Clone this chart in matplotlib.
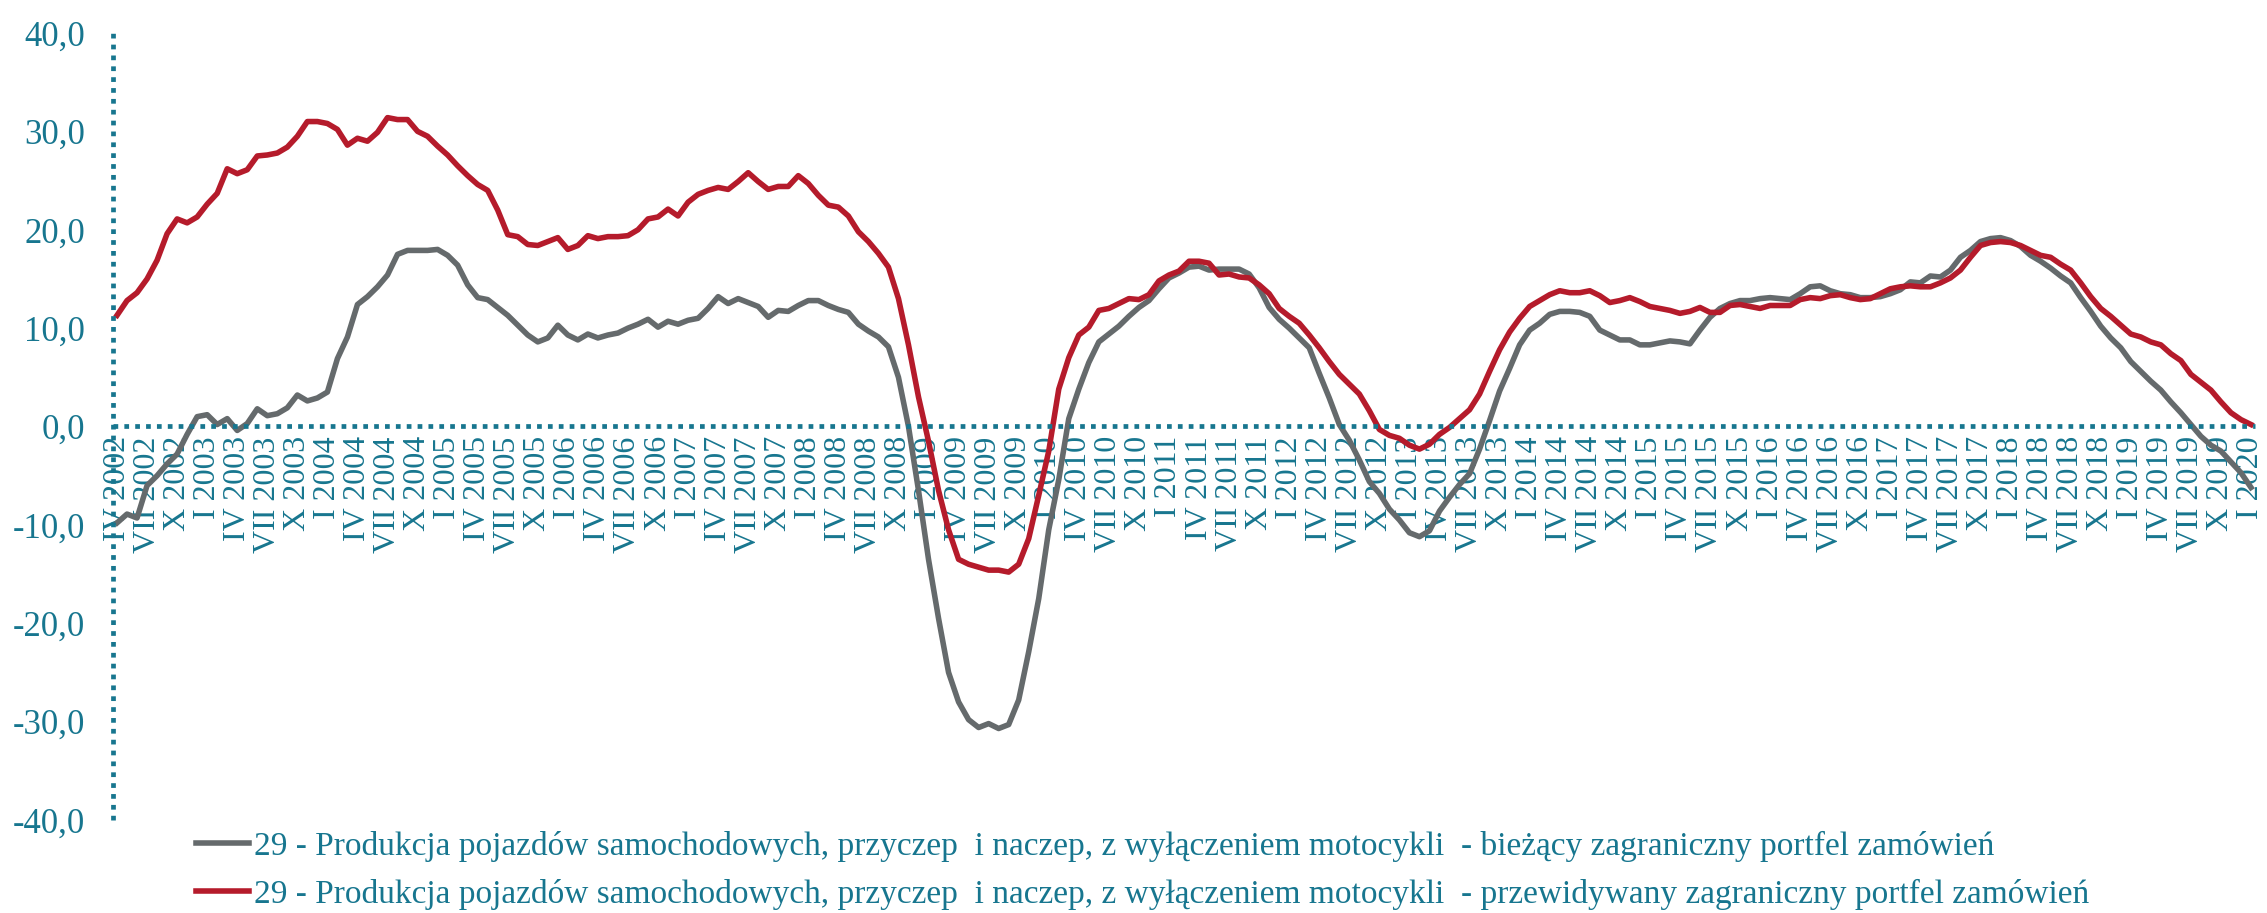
import matplotlib
matplotlib.use("Agg")
import matplotlib.pyplot as plt
import numpy as np

# monthly values, IV 2002 .. I 2020
biezacy = [
    -9.8, -8.9, -9.3, -6.0, -5.0, -3.8, -2.8, -0.8, 1.0,
    1.2, 0.2, 0.8, -0.4, 0.3, 1.8, 1.1, 1.3, 1.9, 3.2, 2.6, 2.9,
    3.5, 6.9, 9.1, 12.4, 13.2, 14.2, 15.4, 17.5, 17.9, 17.9, 17.9, 18.0,
    17.4, 16.4, 14.4, 13.1, 12.9, 12.1, 11.3, 10.3, 9.3, 8.6, 9.0, 10.3,
    9.3, 8.8, 9.4, 9.0, 9.3, 9.5, 10.0, 10.4, 10.9, 10.1, 10.7, 10.4,
    10.8, 11.0, 12.0, 13.2, 12.5, 13.0, 12.6, 12.2, 11.1, 11.8, 11.7, 12.3,
    12.8, 12.8, 12.3, 11.9, 11.6, 10.4, 9.7, 9.1, 8.1, 5.0, 0.0, -6.5,
    -13.5, -19.5, -25.0, -28.0, -29.8, -30.6, -30.2, -30.7, -30.3, -27.8, -22.9, -17.5,
    -10.5, -5.4, 0.8, 3.8, 6.5, 8.6, 9.4, 10.2, 11.2, 12.1, 12.8, 14.0,
    15.1, 15.6, 16.2, 16.3, 15.9, 16.0, 16.0, 16.0, 15.5, 14.1, 12.1, 10.9,
    10.0, 9.0, 8.0, 5.4, 2.9, 0.2, -1.4, -3.4, -5.6, -6.8, -8.4, -9.5,
    -10.8, -11.2, -10.6, -8.6, -7.2, -5.9, -4.8, -2.3, 0.6, 3.6, 5.9, 8.3,
    9.8, 10.5, 11.4, 11.7, 11.7, 11.6, 11.2, 9.8, 9.3, 8.8, 8.8, 8.3,
    8.3, 8.5, 8.7, 8.6, 8.4, 9.8, 11.1, 12.0, 12.5, 12.8, 12.8, 13.0,
    13.1, 13.0, 12.9, 13.5, 14.2, 14.3, 13.8, 13.5, 13.4, 13.1, 13.1, 13.2,
    13.5, 13.9, 14.7, 14.6, 15.3, 15.2, 15.9, 17.2, 17.9, 18.8, 19.1, 19.2,
    18.9, 18.3, 17.4, 16.8, 16.1, 15.3, 14.6, 13.1, 11.7, 10.2, 9.0, 8.0,
    6.6, 5.6, 4.6, 3.7, 2.5, 1.4, 0.2, -1.0, -1.9, -2.5, -3.6, -4.7,
    -6.2,
]

przewidywany = [
    11.3, 12.8, 13.6, 15.0, 16.9, 19.6, 21.1, 20.7, 21.3,
    22.6, 23.7, 26.2, 25.7, 26.1, 27.5, 27.6, 27.8, 28.4, 29.5, 31.0, 31.0,
    30.8, 30.2, 28.6, 29.3, 29.0, 29.9, 31.4, 31.2, 31.2, 30.0, 29.5, 28.5,
    27.6, 26.5, 25.5, 24.6, 24.0, 22.0, 19.5, 19.3, 18.5, 18.4, 18.8, 19.2,
    18.0, 18.4, 19.4, 19.1, 19.3, 19.3, 19.4, 20.0, 21.1, 21.3, 22.1, 21.4,
    22.8, 23.6, 24.0, 24.3, 24.1, 24.9, 25.8, 24.9, 24.1, 24.4, 24.4, 25.5,
    24.7, 23.5, 22.5, 22.3, 21.4, 19.8, 18.8, 17.6, 16.2, 13.0, 8.3, 3.0,
    -1.5, -6.5, -10.5, -13.5, -14.0, -14.3, -14.6, -14.6, -14.8, -14.0, -11.4, -7.0,
    -2.5, 3.8, 7.0, 9.3, 10.1, 11.8, 12.0, 12.5, 13.0, 12.9, 13.4, 14.8,
    15.4, 15.8, 16.8, 16.8, 16.6, 15.4, 15.5, 15.2, 15.1, 14.4, 13.5, 12.0,
    11.2, 10.5, 9.3, 8.0, 6.6, 5.3, 4.3, 3.3, 1.6, -0.3, -0.9, -1.2,
    -1.9, -2.3, -1.8, -0.8, -0.1, 0.8, 1.7, 3.3, 5.6, 7.8, 9.6, 11.0,
    12.2, 12.8, 13.4, 13.8, 13.6, 13.6, 13.8, 13.3, 12.6, 12.8, 13.1, 12.7,
    12.2, 12.0, 11.8, 11.5, 11.7, 12.1, 11.6, 11.6, 12.3, 12.4, 12.2, 12.0,
    12.3, 12.3, 12.3, 12.9, 13.1, 13.0, 13.3, 13.4, 13.1, 12.9, 13.0, 13.5,
    14.0, 14.2, 14.3, 14.2, 14.2, 14.6, 15.1, 15.9, 17.2, 18.4, 18.7, 18.8,
    18.7, 18.4, 17.9, 17.4, 17.2, 16.5, 15.9, 14.6, 13.2, 12.0, 11.2, 10.3,
    9.4, 9.1, 8.6, 8.3, 7.4, 6.7, 5.3, 4.5, 3.7, 2.5, 1.4, 0.7,
    0.2,
]

rzymskie = ["I", "II", "III", "IV", "V", "VI", "VII", "VIII", "IX", "X", "XI", "XII"]
start_rok, start_mies = 2002, 4
miesiace = [f"{rzymskie[(start_mies - 1 + k) % 12]} {start_rok + (start_mies - 1 + k) // 12}"
            for k in range(len(biezacy))]

yticks = [-40, -30, -20, -10, 0, 10, 20, 30, 40]
ylabels = ["-40,0", "-30,0", "-20,0", "-10,0", "0,0", "10,0", "20,0", "30,0", "40,0"]

etykiety = [
    "29 - Produkcja pojazdów samochodowych, przyczep  i naczep, z wyłączeniem motocykli  - bieżący zagraniczny portfel zamówień",
    "29 - Produkcja pojazdów samochodowych, przyczep  i naczep, z wyłączeniem motocykli  - przewidywany zagraniczny portfel zamówień",
]

teal = "#17768f"
szary = "#656a6c"
czerwony = "#b51b2b"

plt.rcParams["font.family"] = ["Liberation Serif", "DejaVu Serif"]

W, H = 2267, 913
fig = plt.figure(figsize=(W / 100, H / 100), dpi=100)
ax = fig.add_axes([113 / W, 1 - 820 / H, (2255 - 113) / W, (820 - 33) / H])

x = np.arange(len(biezacy))
l1, = ax.plot(x, biezacy, color=szary, lw=4)
l2, = ax.plot(x, przewidywany, color=czerwony, lw=4)

ax.set_xlim(-0.4, len(x) - 1 + 0.4)
ax.set_ylim(-40, 40)

for side in ["top", "right"]:
    ax.spines[side].set_visible(False)
ax.spines["bottom"].set_position(("data", 0))
for side in ["left", "bottom"]:
    sp = ax.spines[side]
    sp.set_color(teal)
    sp.set_linewidth(3.4)
    sp.set_linestyle((0, (1, 1.3)))
    sp.set_capstyle("butt")

ax.set_yticks(yticks, labels=ylabels)
ax.set_xticks(x[::3], labels=miesiace[::3])

ax.tick_params(axis="y", length=0, pad=20, labelsize=25, labelcolor=teal)
ax.tick_params(axis="x", length=0, pad=7, labelsize=23, labelcolor=teal,
               labelrotation=90)

leg = fig.legend([l1, l2], etykiety, loc="upper left",
                 bbox_to_anchor=(196 / W, 1 - 831 / H), frameon=False,
                 fontsize=24, handlelength=1.6, handletextpad=0.15,
                 labelspacing=0.5, borderpad=0, borderaxespad=0)
for t in leg.get_texts():
    t.set_color(teal)

fig.savefig("out.png", dpi=100)
